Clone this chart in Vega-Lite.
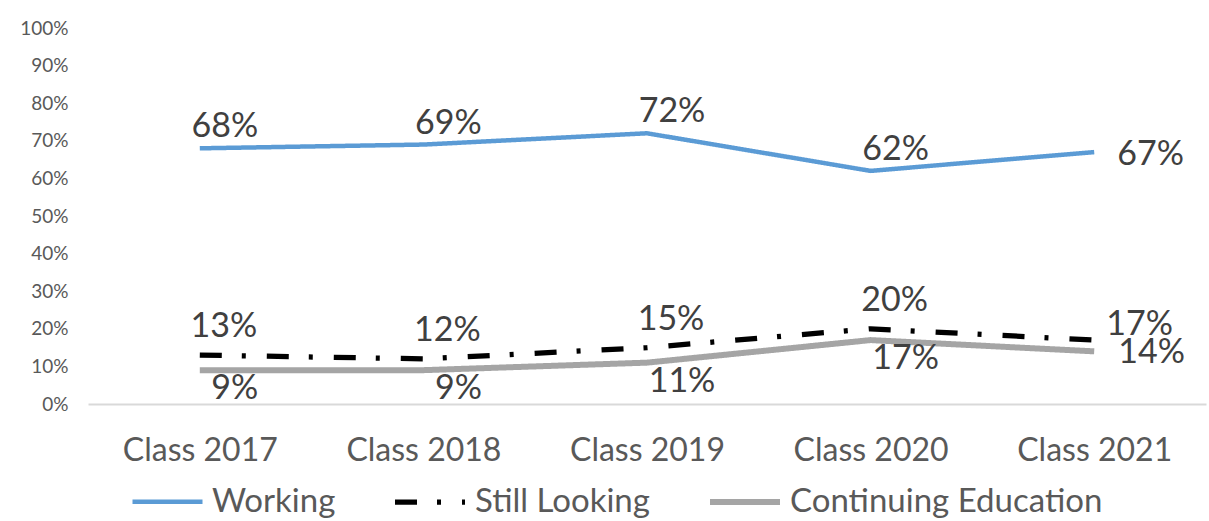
{
  "$schema": "https://vega.github.io/schema/vega-lite/v6.json",
  "width": 1118,
  "height": 376,
  "autosize": {"type": "none"},
  "padding": {"left": 88, "top": 28, "right": 3, "bottom": 117},
  "background": "white",
  "config": {"view": {"stroke": null}, "font": "Lato", "text": {"font": "Lato"}},
  "data": {
    "values": [
      {"series": "Working", "cls": "Class 2017", "pct": 0.68},
      {"series": "Working", "cls": "Class 2018", "pct": 0.69},
      {"series": "Working", "cls": "Class 2019", "pct": 0.72},
      {"series": "Working", "cls": "Class 2020", "pct": 0.62},
      {"series": "Working", "cls": "Class 2021", "pct": 0.67},
      {"series": "Still Looking", "cls": "Class 2017", "pct": 0.13},
      {"series": "Still Looking", "cls": "Class 2018", "pct": 0.12},
      {"series": "Still Looking", "cls": "Class 2019", "pct": 0.15},
      {"series": "Still Looking", "cls": "Class 2020", "pct": 0.20},
      {"series": "Still Looking", "cls": "Class 2021", "pct": 0.17},
      {"series": "Continuing Education", "cls": "Class 2017", "pct": 0.09},
      {"series": "Continuing Education", "cls": "Class 2018", "pct": 0.09},
      {"series": "Continuing Education", "cls": "Class 2019", "pct": 0.11},
      {"series": "Continuing Education", "cls": "Class 2020", "pct": 0.17},
      {"series": "Continuing Education", "cls": "Class 2021", "pct": 0.14}
    ]
  },
  "encoding": {
    "x": {
      "field": "cls", "type": "ordinal", "sort": null,
      "scale": {"type": "point", "padding": 0.5},
      "axis": {
        "title": null, "labelAngle": 0, "ticks": false,
        "labelFontSize": 32, "labelColor": "#595959", "labelPadding": 31,
        "domainColor": "#D9D9D9", "domainWidth": 2
      }
    },
    "y": {
      "field": "pct", "type": "quantitative",
      "scale": {"domain": [0, 1], "nice": false},
      "axis": {
        "title": null, "ticks": false, "domain": false, "grid": false,
        "values": [0, 0.1, 0.2, 0.3, 0.4, 0.5, 0.6, 0.7, 0.8, 0.9, 1],
        "format": ".0%", "labelFontSize": 19, "labelColor": "#595959", "labelPadding": 20
      }
    }
  },
  "layer": [
    {
      "mark": {"type": "line", "strokeCap": "butt", "strokeJoin": "round"},
      "encoding": {
        "color": {
          "field": "series", "type": "nominal",
          "scale": {"domain": ["Working", "Still Looking", "Continuing Education"], "range": ["#5B9BD5", "#000000", "#A5A5A5"]},
          "legend": {
            "orient": "none", "legendX": 42, "legendY": 436, "direction": "horizontal", "title": null,
            "labelFontSize": 33, "labelColor": "#595959", "symbolType": "stroke", "symbolSize": 4900,
            "symbolStrokeWidth": 5, "labelOffset": 7, "columnPadding": 48, "labelLimit": 0
          }
        },
        "strokeDash": {
          "field": "series", "type": "nominal",
          "scale": {"domain": ["Working", "Still Looking", "Continuing Education"], "range": [[1, 0], [22, 20, 4, 21], [1, 0]]},
          "legend": {
            "orient": "none", "legendX": 42, "legendY": 436, "direction": "horizontal", "title": null,
            "labelFontSize": 33, "labelColor": "#595959", "symbolType": "stroke", "symbolSize": 4900,
            "symbolStrokeWidth": 5, "labelOffset": 7, "columnPadding": 48, "labelLimit": 0
          }
        },
        "strokeWidth": {
          "field": "series", "type": "nominal",
          "scale": {"domain": ["Working", "Still Looking", "Continuing Education"], "range": [4.5, 6, 5]},
          "legend": null
        }
      }
    },
    {
      "transform": [{"filter": "datum.series == 'Working' && datum.cls != 'Class 2021'"}],
      "mark": {"type": "text", "fontSize": 34, "color": "#404040", "align": "center", "baseline": "alphabetic", "dx": 25, "dy": -11},
      "encoding": {"text": {"field": "pct", "type": "quantitative", "format": ".0%"}}
    },
    {
      "transform": [{"filter": "datum.series == 'Working' && datum.cls == 'Class 2021'"}],
      "mark": {"type": "text", "fontSize": 34, "color": "#404040", "align": "left", "baseline": "alphabetic", "dx": 23, "dy": 13},
      "encoding": {"text": {"field": "pct", "type": "quantitative", "format": ".0%"}}
    },
    {
      "transform": [{"filter": "datum.series == 'Still Looking' && datum.cls != 'Class 2021'"}],
      "mark": {"type": "text", "fontSize": 34, "color": "#404040", "align": "center", "baseline": "alphabetic", "dx": 24, "dy": -18},
      "encoding": {"text": {"field": "pct", "type": "quantitative", "format": ".0%"}}
    },
    {
      "transform": [{"filter": "datum.series == 'Still Looking' && datum.cls == 'Class 2021'"}],
      "mark": {"type": "text", "fontSize": 34, "color": "#404040", "align": "left", "baseline": "alphabetic", "dx": 12, "dy": -5},
      "encoding": {"text": {"field": "pct", "type": "quantitative", "format": ".0%"}}
    },
    {
      "transform": [{"filter": "datum.series == 'Continuing Education' && datum.cls != 'Class 2021'"}],
      "mark": {"type": "text", "fontSize": 34, "color": "#404040", "align": "center", "baseline": "alphabetic", "dx": 35, "dy": 29},
      "encoding": {"text": {"field": "pct", "type": "quantitative", "format": ".0%"}}
    },
    {
      "transform": [{"filter": "datum.series == 'Continuing Education' && datum.cls == 'Class 2021'"}],
      "mark": {"type": "text", "fontSize": 34, "color": "#404040", "align": "left", "baseline": "alphabetic", "dx": 24, "dy": 12},
      "encoding": {"text": {"field": "pct", "type": "quantitative", "format": ".0%"}}
    }
  ]
}
